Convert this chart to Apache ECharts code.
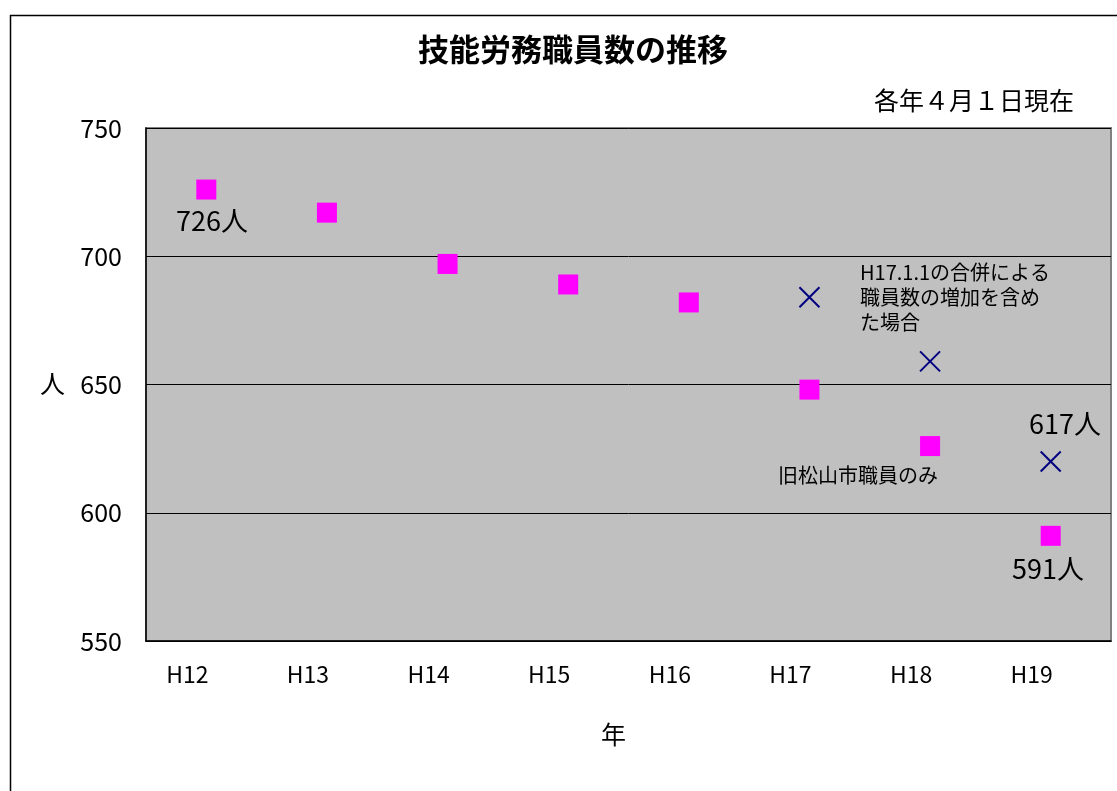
<!DOCTYPE html>
<html>
<head>
<meta charset="utf-8">
<script src="https://cdn.jsdelivr.net/npm/echarts@6/dist/echarts.min.js"></script>
<style>html,body{margin:0;padding:0;background:#fff;}#c{width:1117px;height:791px;}</style>
</head>
<body>
<div id="c"></div>
<script>
const categories = ['H12','H13','H14','H15','H16','H17','H18','H19'];
const oldCityOnly = [726,717,697,689,682,648,626,591];
const withMerger = [null,null,null,null,null,684,659,620];
const yTicks = [550,600,650,700,750];

const FONT = '"Noto Sans CJK JP", "Noto Sans CJK SC", sans-serif';
const chart = echarts.init(document.getElementById('c'), null, {renderer:'canvas'});
chart.setOption({
  animation:false,
  backgroundColor:'#ffffff',
  textStyle:{fontFamily:FONT},
  title:{
    text:'技能労務職員数の推移',
    left:568, top:29, textAlign:'center',
    textStyle:{fontSize:31, fontWeight:'bold', color:'#000', fontFamily:FONT}
  },
  grid:{
    left:146, top:128, width:965, height:513,
    show:true, backgroundColor:'#C0C0C0', borderColor:'#808080', borderWidth:2
  },
  xAxis:{
    type:'category', data:categories, boundaryGap:true,
    axisLine:{show:true, lineStyle:{color:'#000', width:1.5}},
    axisTick:{show:false},
    axisLabel:{color:'#000', fontSize:23, margin:22, padding:[0,38,0,0], fontFamily:FONT},
    splitLine:{show:false}
  },
  yAxis:{
    type:'value', min:yTicks[0], max:yTicks[yTicks.length-1], interval:50,
    axisLine:{show:true, lineStyle:{color:'#000', width:1.5}},
    axisTick:{show:true, inside:true, length:6, lineStyle:{color:'#000'}},
    axisLabel:{color:'#000', fontSize:25, margin:24, fontFamily:FONT},
    splitLine:{show:true, lineStyle:{color:'#000', width:1}}
  },
  series:[
    {
      name:'旧松山市職員のみ', type:'scatter', data:oldCityOnly,
      symbol:'rect', symbolSize:20,
      itemStyle:{color:'#FF00FF', opacity:1}
    },
    {
      name:'H17.1.1の合併による職員数の増加を含めた場合', type:'scatter', data:withMerger,
      symbol:'path://M0,0L10,10M10,0L0,10', symbolSize:20,
      itemStyle:{color:'none', borderColor:'#000080', borderWidth:2, opacity:1}
    }
  ],
  graphic:[
    {type:'rect', left:8, top:13, shape:{width:1200, height:900}, style:{fill:'none', stroke:'#000', lineWidth:1.5}, z:-1, silent:true},
    {type:'text', right:43, top:88, style:{text:'各年４月１日現在', font:'25px '+FONT, fill:'#000'}},
    {type:'text', left:40, top:371, style:{text:'人', font:'25px '+FONT, fill:'#000'}},
    {type:'text', left:601, top:722, style:{text:'年', font:'25px '+FONT, fill:'#000'}},
    {type:'text', left:176, top:207, style:{text:'726人', font:'27px '+FONT, fill:'#000'}},
    {type:'text', left:1029, top:410, style:{text:'617人', font:'27px '+FONT, fill:'#000'}},
    {type:'text', left:1012, top:555, style:{text:'591人', font:'27px '+FONT, fill:'#000'}},
    {type:'text', left:860, top:260, style:{text:'H17.1.1の合併による\n職員数の増加を含め\nた場合', font:'20px '+FONT, fill:'#000', lineHeight:25}},
    {type:'text', left:778, top:465, style:{text:'旧松山市職員のみ', font:'20px '+FONT, fill:'#000'}}
  ]
});
</script>
</body>
</html>
